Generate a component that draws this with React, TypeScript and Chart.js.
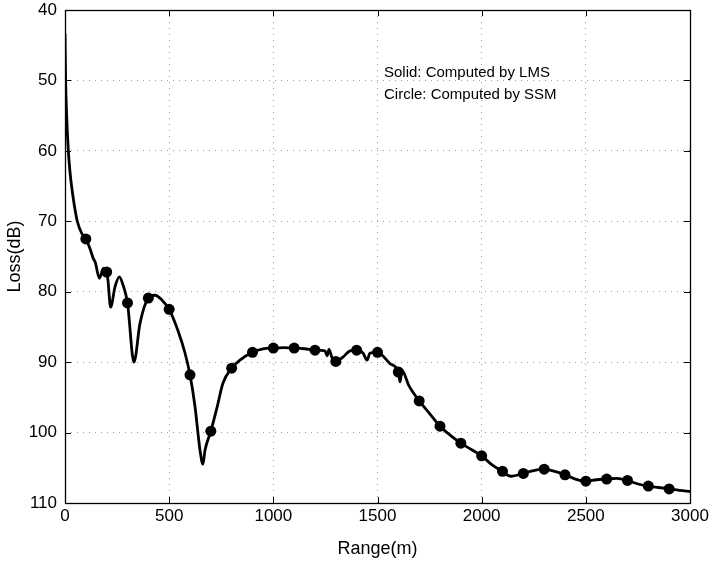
import React, { useEffect, useRef } from 'react';
import { Chart, registerables } from 'chart.js';

Chart.register(...registerables);

// LMS (solid line) samples
const lmsRange = [
  0, 3, 8, 16, 24, 32, 43, 59, 80, 90, 100, 120, 136, 145, 165, 184, 200, 206,
  219, 240, 261, 278, 300, 331, 360, 400, 432, 466, 500, 542, 576, 600, 624, 648, 662, 672,
  700, 730, 758, 800, 840, 900, 950, 1000, 1050, 1100, 1150, 1200, 1248, 1258, 1267, 1282,
  1300, 1334, 1368, 1400, 1430, 1450, 1464, 1500, 1560, 1600, 1608, 1618, 1650, 1700, 1750,
  1800, 1850, 1900, 1950, 2000, 2050, 2100, 2140, 2200, 2250, 2300, 2350, 2400, 2450, 2500,
  2550, 2600, 2650, 2700, 2750, 2800, 2850, 2900, 2950, 3000,
];
const lmsLoss = [
  43.3, 50, 55, 60, 63, 65.1, 67.4, 70, 71.7, 72.1, 72.5, 73.9, 75.3, 75.8, 78.1, 76.7, 77.2,
  78.3, 82.2, 79.3, 77.9, 79.0, 81.6, 90.0, 84.5, 80.9, 80.5, 81.2, 82.5,
  85.5, 88.7, 91.8, 96.3, 102.5, 104.5, 102.5, 99.8, 96.4, 93.0, 90.85, 89.7, 88.6, 88.1, 88.0,
  87.95, 88.0, 88.1, 88.3, 88.4, 89.1, 88.2, 89.4, 89.9, 89.3, 88.4, 88.3, 88.7, 89.7, 88.7,
  88.6, 90.2, 91.4, 92.8, 91.2, 93.3, 95.5, 97.3, 99.1, 100.4, 101.5, 102.4, 103.3, 104.6,
  105.5, 106.2, 105.8, 105.4, 105.2, 105.5, 106.0, 106.6, 106.9, 106.7, 106.6, 106.5, 106.8,
  107.3, 107.6, 107.8, 108.0, 108.2, 108.35,
];

// SSM (circles) samples
const ssmRange = [
  100, 200, 300, 400, 500, 600, 700, 800, 900, 1000, 1100, 1200, 1300, 1400, 1500, 1600, 1700,
  1800, 1900, 2000, 2100, 2200, 2300, 2400, 2500, 2600, 2700, 2800, 2900,
];
const ssmLoss = [
  72.5, 77.2, 81.6, 80.9, 82.5, 91.8, 99.8, 90.85, 88.6, 88.0, 88.0, 88.3, 89.9, 88.3, 88.6,
  91.4, 95.5, 99.1, 101.5, 103.3, 105.5, 105.8, 105.2, 106.0, 106.9, 106.6, 106.8, 107.6, 108.0,
];

const xTickValues = [0, 500, 1000, 1500, 2000, 2500, 3000];
const yTickValues = [40, 50, 60, 70, 80, 90, 100, 110];
const xTitle = 'Range(m)';
const yTitle = 'Loss(dB)';
const noteLines = ['Solid: Computed by LMS', 'Circle: Computed by SSM'];

const FONT = '"Liberation Sans", Arial, Helvetica, sans-serif';

const boxPlugin = {
  id: 'matlabBox',
  afterDraw(chart: any) {
    const { ctx, chartArea, scales } = chart;
    const { left, right, top, bottom } = chartArea;
    ctx.save();
    ctx.strokeStyle = '#000';
    ctx.lineWidth = 1;
    ctx.setLineDash([]);
    ctx.beginPath();
    const tl = 6;
    for (const v of xTickValues) {
      const px = Math.round(scales.x.getPixelForValue(v)) + 0.5;
      ctx.moveTo(px, bottom);
      ctx.lineTo(px, bottom - tl);
      ctx.moveTo(px, top);
      ctx.lineTo(px, top + tl);
    }
    for (const v of yTickValues) {
      const py = Math.round(scales.y.getPixelForValue(v)) + 0.5;
      ctx.moveTo(left, py);
      ctx.lineTo(left + tl, py);
      ctx.moveTo(right, py);
      ctx.lineTo(right - tl, py);
    }
    ctx.stroke();
    ctx.lineWidth = 1.3;
    ctx.strokeRect(Math.round(left) + 0.5, Math.round(top) + 0.5, Math.round(right - left), Math.round(bottom - top));
    ctx.fillStyle = '#000';
    ctx.font = `15px ${FONT}`;
    ctx.textBaseline = 'middle';
    ctx.textAlign = 'left';
    noteLines.forEach((t, i) => {
      ctx.fillText(t, left + 319, top + 63 + i * 22);
    });
    ctx.restore();
  },
};

export default function App() {
  const ref = useRef<HTMLCanvasElement>(null);
  useEffect(() => {
    if (!ref.current) return;
    const chart = new Chart(ref.current, {
      type: 'line',
      data: {
        datasets: [
          {
            label: 'LMS',
            data: lmsRange.map((x, i) => ({ x, y: lmsLoss[i] })),
            borderColor: '#000',
            borderWidth: 2.8,
            pointRadius: 0,
            cubicInterpolationMode: 'monotone',
            fill: false,
          },
          {
            label: 'SSM',
            data: ssmRange.map((x, i) => ({ x, y: ssmLoss[i] })),
            showLine: false,
            pointRadius: 5.5,
            pointBackgroundColor: '#000',
            pointBorderColor: '#000',
            pointBorderWidth: 0,
          },
        ],
      },
      plugins: [boxPlugin],
      options: {
        responsive: false,
        animation: false,
        events: [],
        layout: { padding: { left: 0, right: 24, top: 10, bottom: 0 } },
        plugins: { legend: { display: false }, tooltip: { enabled: false } },
        scales: {
          x: {
            type: 'linear',
            min: 0,
            max: 3000,
            afterBuildTicks: (s: any) => {
              s.ticks = xTickValues.map((v) => ({ value: v }));
            },
            afterFit: (s: any) => {
              s.height = 62;
              s.paddingLeft = 0;
              s.paddingRight = 0;
            },
            ticks: {
              color: '#000',
              font: { family: FONT, size: 17 },
              padding: 3,
              maxRotation: 0,
              callback: (v: any) => String(v),
            },
            grid: { color: '#999', lineWidth: 1, drawTicks: false },
            border: { display: false, dash: [1, 5] },
            title: {
              display: true,
              text: xTitle,
              color: '#000',
              font: { family: FONT, size: 18 },
              padding: { top: 4, bottom: 5 },
            },
          },
          y: {
            type: 'linear',
            reverse: true,
            min: 40,
            max: 110,
            afterBuildTicks: (s: any) => {
              s.ticks = yTickValues.map((v) => ({ value: v }));
            },
            afterFit: (s: any) => {
              s.width = 65;
              s.paddingTop = 0;
              s.paddingBottom = 0;
            },
            ticks: { color: '#000', font: { family: FONT, size: 17 }, padding: 8, callback: (v: any) => String(v) },
            grid: { color: '#999', lineWidth: 1, drawTicks: false },
            border: { display: false, dash: [1, 5] },
            title: {
              display: true,
              text: yTitle,
              color: '#000',
              font: { family: FONT, size: 18 },
              padding: { top: 4, bottom: 4 },
            },
          },
        },
      },
    } as any);
    return () => chart.destroy();
  }, []);
  return (
    <div style={{ position: 'fixed', left: 0, top: 0, width: 714, height: 565, background: '#fff' }}>
      <canvas ref={ref} width={714} height={565} style={{ display: 'block' }} />
    </div>
  );
}
